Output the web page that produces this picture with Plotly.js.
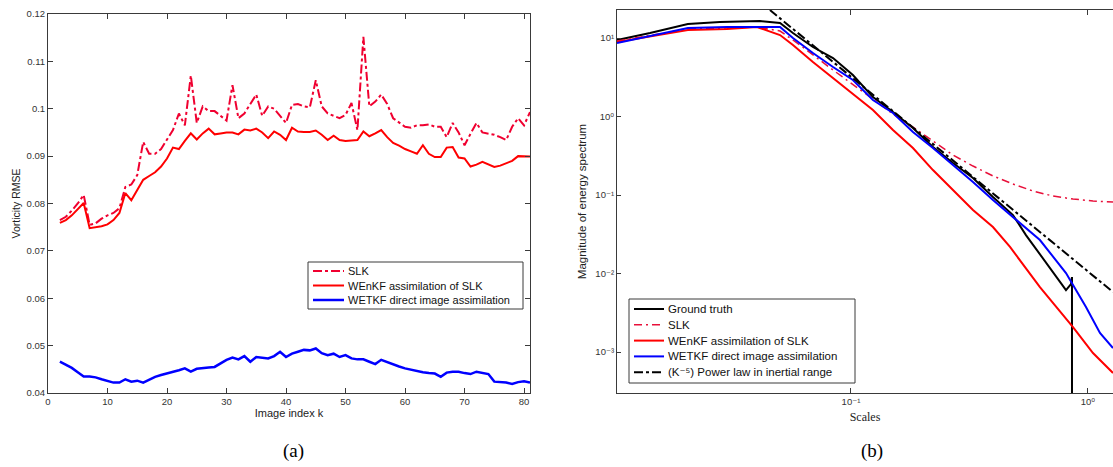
<!DOCTYPE html>
<html>
<head>
<meta charset="utf-8">
<script src="https://cdn.plot.ly/plotly-3.0.1.min.js"></script>
<style>
  html, body { margin: 0; padding: 0; background: #fff; overflow: hidden; }
  #chart { width: 1113px; height: 467px; }
</style>
</head>
<body>
<div id="chart"></div>
<script>
// ---- Panel (a): vorticity RMSE against image index ----
const imageIndex = [2,3,4,5,6,7,8,9,10,11,12,13,14,15,16,17,18,19,20,21,
  22,23,24,25,26,27,28,29,30,31,32,33,34,35,36,37,38,39,40,41,
  42,43,44,45,46,47,48,49,50,51,52,53,54,55,56,57,58,59,60,61,
  62,63,64,65,66,67,68,69,70,71,72,73,74,75,76,77,78,79,80,81];

const slkRmse = [0.0765,0.0772,0.0785,0.0800,0.0818,0.0755,0.0758,0.0768,0.0775,0.0780,
  0.0790,0.0835,0.0840,0.0860,0.0930,0.0905,0.0905,0.0915,0.0935,0.0955,
  0.0990,0.0965,0.1070,0.0970,0.1005,0.0995,0.0995,0.0985,0.0975,0.1050,
  0.0980,0.0990,0.1010,0.1030,0.0985,0.1005,0.1000,0.0985,0.0970,0.1008,
  0.1010,0.1005,0.1003,0.1060,0.1005,0.0990,0.0985,0.0980,0.0987,0.1012,
  0.0955,0.1152,0.1005,0.1015,0.1030,0.1010,0.0980,0.0970,0.0962,0.0960,
  0.0965,0.0965,0.0967,0.0962,0.0962,0.0940,0.0970,0.0950,0.0923,0.0947,
  0.0970,0.0950,0.0947,0.0945,0.0940,0.0934,0.0962,0.0980,0.0965,0.0993];

const wenkfRmse = [0.0759,0.0765,0.0775,0.0788,0.0801,0.0748,0.0750,0.0752,0.0756,0.0765,
  0.0780,0.0822,0.0807,0.0830,0.0850,0.0858,0.0866,0.0878,0.0895,0.0918,
  0.0915,0.0932,0.0948,0.0935,0.0948,0.0958,0.0946,0.0948,0.0950,0.0950,
  0.0946,0.0956,0.0954,0.0958,0.0950,0.0938,0.0952,0.0945,0.0934,0.0960,
  0.0952,0.0951,0.0951,0.0954,0.0945,0.0934,0.0943,0.0934,0.0932,0.0933,
  0.0934,0.0952,0.0942,0.0948,0.0955,0.0940,0.0928,0.0922,0.0915,0.0910,
  0.0905,0.0923,0.0905,0.0898,0.0898,0.0918,0.0919,0.0897,0.0895,0.0878,
  0.0882,0.0888,0.0882,0.0877,0.0880,0.0885,0.0890,0.0900,0.0899,0.0899];

const wetkfRmse = [0.0466,0.0460,0.0453,0.0444,0.0435,0.0435,0.0433,0.0429,0.0426,0.0422,
  0.0422,0.0429,0.0424,0.0426,0.0422,0.0428,0.0434,0.0438,0.0441,0.0445,
  0.0448,0.0452,0.0445,0.0451,0.0453,0.0454,0.0455,0.0462,0.0470,0.0475,
  0.0471,0.0478,0.0466,0.0476,0.0474,0.0473,0.0478,0.0487,0.0476,0.0483,
  0.0487,0.0491,0.0490,0.0494,0.0484,0.0480,0.0483,0.0476,0.0480,0.0473,
  0.0471,0.0471,0.0466,0.0461,0.0470,0.0465,0.0460,0.0456,0.0452,0.0449,
  0.0446,0.0444,0.0442,0.0441,0.0434,0.0443,0.0445,0.0445,0.0442,0.0440,
  0.0445,0.0443,0.0440,0.0424,0.0423,0.0422,0.0419,0.0423,0.0425,0.0422];

const rmseTickVals = [0.04,0.05,0.06,0.07,0.08,0.09,0.10,0.11,0.12];
const rmseTickText = ['0.04','0.05','0.06','0.07','0.08','0.09','0.1','0.11','0.12'];
const indexTickVals = [0,10,20,30,40,50,60,70,80];

// ---- Panel (b): energy spectrum against scale (log-log) ----
const truthScale  = [0.0103,0.0142,0.0205,0.0280,0.0413,0.0502,0.0569,0.0691,0.0840,0.1019,0.1238,0.1504,
  0.1826,0.2218,0.2694,0.3272,0.3973,0.4826,0.5474,0.6648,0.8077,0.8479,0.8561,0.8566];
const truthEnergy = [9.43,11.58,15.08,15.99,16.47,15.53,11.58,7.68,5.56,3.38,1.77,1.141,
  0.714,0.409,0.256,0.165,0.0943,0.0556,0.0309,0.0136,0.00616,0.00735,0.00902,0.000001];

const slkScale  = [0.0103,0.0205,0.0300,0.0401,0.0502,0.0609,0.0840,0.1019,0.1238,0.1504,0.1826,
  0.2218,0.2694,0.3272,0.3973,0.4826,0.5858,0.7115,0.8645,1.0498,1.2752];
const slkEnergy = [9.16,13.02,13.41,13.81,12.28,8.15,3.91,2.59,1.67,1.076,0.735,
  0.487,0.323,0.234,0.175,0.138,0.1125,0.0971,0.0889,0.0839,0.0815];

const wenkfScale  = [0.0103,0.0205,0.0300,0.0401,0.0502,0.0569,0.0691,0.0840,0.1019,0.1238,0.1504,
  0.1826,0.2218,0.2694,0.3272,0.3973,0.4689,0.6270,0.8645,1.0498,1.2752];
const wenkfEnergy = [8.89,12.65,13.02,13.81,10.92,8.15,4.95,3.09,1.99,1.21,0.673,
  0.397,0.208,0.1158,0.0644,0.0391,0.0218,0.00673,0.00208,0.000971,0.00054];

const wetkfScale  = [0.0103,0.0205,0.0300,0.0502,0.0569,0.0691,0.0840,0.1019,0.1238,0.1504,0.1826,
  0.2218,0.2694,0.3272,0.3973,0.4826,0.6270,0.8077,0.9808,1.1235,1.2752];
const wetkfEnergy = [8.64,13.41,13.81,13.81,10.0,6.44,4.27,2.92,1.62,1.108,0.635,
  0.397,0.241,0.1464,0.0864,0.0525,0.0267,0.01015,0.00374,0.00175,0.001125];

const powerLawScale  = [0.0455,1.2752];
const powerLawEnergy = [22.74,0.00581];

const scaleTickVals = [0.1,1];
const scaleTickText = ['10\u207B\u00B9','10\u2070'];
const scaleMinorVals = [0.02,0.03,0.04,0.05,0.06,0.07,0.08,0.09,0.2,0.3,0.4,0.5,0.6,0.7,0.8,0.9];
const energyTickVals = [0.001,0.01,0.1,1,10];
const energyTickText = ['10\u207B\u00B3','10\u207B\u00B2','10\u207B\u00B9','10\u2070','10\u00B9'];

const RED = '#ff0000', BLUE = '#0000ff', BLACK = '#000000';
const SANS = 'Liberation Sans, Arial, DejaVu Sans, sans-serif';
const SERIF = 'Liberation Serif, Times New Roman, serif';
const AXIS_GREY = '#3a3a3a';

const rmseTraces = [
  { x: imageIndex, y: slkRmse, name: 'SLK',
    line: { color: '#f00030', width: 2, dash: 'dashdot' } },
  { x: imageIndex, y: wenkfRmse, name: 'WEnKF assimilation of SLK',
    line: { color: RED, width: 2 } },
  { x: imageIndex, y: wetkfRmse, name: 'WETKF direct image assimilation',
    line: { color: BLUE, width: 2.5 } }
].map(t => Object.assign(t, { xaxis: 'x', yaxis: 'y', mode: 'lines' }));

const spectrumTraces = [
  { x: truthScale, y: truthEnergy, name: 'Ground truth',
    line: { color: BLACK, width: 2 } },
  { x: slkScale, y: slkEnergy, name: 'SLK',
    line: { color: '#e8103a', width: 1.5, dash: '8px,4px,2px,4px' } },
  { x: wenkfScale, y: wenkfEnergy, name: 'WEnKF assimilation of SLK',
    line: { color: RED, width: 2 } },
  { x: wetkfScale, y: wetkfEnergy, name: 'WETKF direct image assimilation',
    line: { color: BLUE, width: 2 } },
  { x: powerLawScale, y: powerLawEnergy, name: '(K\u207B\u2075) Power law in inertial range',
    line: { color: BLACK, width: 2, dash: 'dashdot' } }
].map(t => Object.assign(t, { xaxis: 'x2', yaxis: 'y2', mode: 'lines' }));

const W = 1113, H = 467;
const px = v => v / W;          // pixel column -> paper x
const py = v => 1 - v / H;      // pixel row -> paper y

// Boxed legend built from the traces' own names and line styles,
// with the compact row spacing of the original figure.
function boxedLegend(traces, box, rowStep, sampleLen, fontSize) {
  const shapes = [{
    type: 'rect', xref: 'paper', yref: 'paper', layer: 'above',
    x0: px(box.left), x1: px(box.right), y0: py(box.top), y1: py(box.bottom),
    fillcolor: '#ffffff', line: { color: AXIS_GREY, width: 1 }
  }];
  const notes = [];
  traces.forEach((t, i) => {
    const rowY = box.top + box.firstRow + i * rowStep;
    shapes.push({
      type: 'line', xref: 'paper', yref: 'paper', layer: 'above',
      x0: px(box.left + 5), x1: px(box.left + 5 + sampleLen), y0: py(rowY), y1: py(rowY),
      line: { color: t.line.color, width: t.line.width, dash: t.line.dash || 'solid' }
    });
    notes.push({
      text: t.name, xref: 'paper', yref: 'paper',
      x: px(box.left + 8 + sampleLen), y: py(rowY),
      xanchor: 'left', yanchor: 'middle', showarrow: false, borderpad: 0,
      font: { family: SANS, size: fontSize, color: '#111' }
    });
  });
  return { shapes, notes };
}

const legendA = boxedLegend(rmseTraces, { left: 308, right: 523, top: 262, bottom: 309, firstRow: 9 }, 14.5, 31, 11);
const legendB = boxedLegend(spectrumTraces, { left: 629, right: 855, top: 299, bottom: 383, firstRow: 10 }, 15.8, 30, 11.5);

const axisCommon = {
  showline: true, linecolor: AXIS_GREY, linewidth: 1,
  ticks: 'inside', tickcolor: AXIS_GREY, ticklen: 5, tickwidth: 1,
  showgrid: false, zeroline: false, automargin: false,
  tickfont: { family: SANS, size: 9.5, color: '#333' }
};

const scaleRange = [Math.log10(0.0103), Math.log10(1.2752)];

const layout = {
  width: W, height: H,
  margin: { l: 0, r: 0, t: 0, b: 0 },
  paper_bgcolor: '#ffffff', plot_bgcolor: '#ffffff',
  showlegend: false,
  xaxis: Object.assign({}, axisCommon, {
    domain: [px(48), px(530)], range: [0, 81], anchor: 'y', mirror: 'ticks',
    tickmode: 'array', tickvals: indexTickVals,
    title: { text: 'Image index k', font: { family: SANS, size: 11, color: '#222' }, standoff: 2 }
  }),
  yaxis: Object.assign({}, axisCommon, {
    domain: [py(393), py(14)], range: [0.04, 0.12], anchor: 'x', mirror: 'ticks',
    tickmode: 'array', tickvals: rmseTickVals, ticktext: rmseTickText,
    title: { text: 'Vorticity RMSE', font: { family: SANS, size: 10.5, color: '#222' }, standoff: 3 }
  }),
  xaxis2: Object.assign({}, axisCommon, {
    type: 'log', domain: [px(617), 1], range: scaleRange,
    anchor: 'y2', mirror: 'ticks',
    tickmode: 'array', tickvals: scaleTickVals, ticktext: scaleTickText,
    title: { text: 'Scales', font: { family: SERIF, size: 12, color: '#222' }, standoff: 6 }
  }),
  // unlabelled companion axis carrying the intermediate log ticks (2..9 per decade)
  xaxis3: Object.assign({}, axisCommon, {
    type: 'log', overlaying: 'x2', range: scaleRange, anchor: 'y2',
    showline: false, mirror: 'ticks', ticklen: 3, showticklabels: false,
    tickmode: 'array', tickvals: scaleMinorVals
  }),
  yaxis2: Object.assign({}, axisCommon, {
    type: 'log', domain: [py(393), py(10)], range: [-3.522, 1.357],
    anchor: 'x2', mirror: false, ticklen: 4,
    tickmode: 'array', tickvals: energyTickVals, ticktext: energyTickText,
    title: { text: 'Magnitude of energy spectrum', font: { family: SANS, size: 11.5, color: '#222' }, standoff: 6 }
  }),
  shapes: legendA.shapes.concat(legendB.shapes),
  annotations: legendA.notes.concat(legendB.notes, [
    { text: '(a)', xref: 'paper', yref: 'paper', x: px(293), y: py(451),
      xanchor: 'center', yanchor: 'middle', showarrow: false,
      font: { family: SERIF, size: 19, color: '#000' } },
    { text: '(b)', xref: 'paper', yref: 'paper', x: px(872), y: py(451),
      xanchor: 'center', yanchor: 'middle', showarrow: false,
      font: { family: SERIF, size: 19, color: '#000' } }
  ])
};

Plotly.newPlot('chart', rmseTraces.concat(spectrumTraces), layout, { staticPlot: true, displayModeBar: false });
</script>
</body>
</html>
